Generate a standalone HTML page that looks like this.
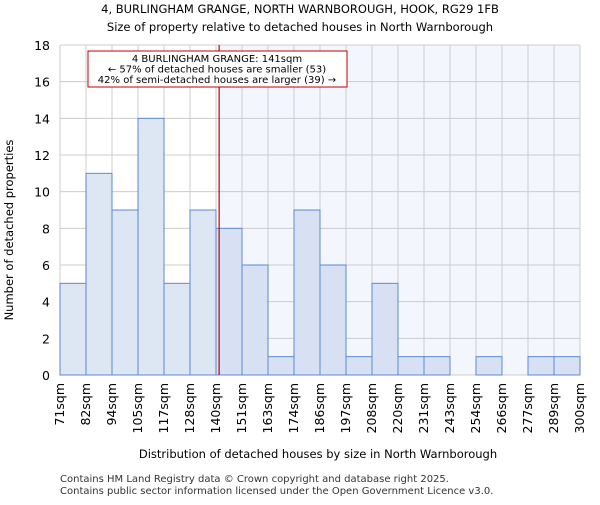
<!DOCTYPE html>
<html><head><meta charset="utf-8"><style>
body{margin:0;background:#fff;font-family:"Liberation Sans","DejaVu Sans",sans-serif}
</style></head><body>
<svg id="c" width="600" height="500" xmlns="http://www.w3.org/2000/svg" font-family="DejaVu Sans, Liberation Sans, sans-serif">
<text x="300" y="13" text-anchor="middle" font-size="11.5">4, BURLINGHAM GRANGE, NORTH WARNBOROUGH, HOOK, RG29 1FB</text>
<text x="300" y="31" text-anchor="middle" font-size="11.5">Size of property relative to detached houses in North Warnborough</text>
<g id="plot"></g>
<text x="318" y="458" text-anchor="middle" font-size="11.5">Distribution of detached houses by size in North Warnborough</text>
<text transform="translate(13,230) rotate(-90)" text-anchor="middle" font-size="11.5">Number of detached properties</text>
<text x="60" y="482" font-size="10" fill="#333">Contains HM Land Registry data © Crown copyright and database right 2025.</text>
<text x="60" y="494" font-size="10" fill="#333">Contains public sector information licensed under the Open Government Licence v3.0.</text>
</svg>
<script>
const categories=["71sqm","82sqm","94sqm","105sqm","117sqm","128sqm","140sqm","151sqm","163sqm","174sqm","186sqm","197sqm","208sqm","220sqm","231sqm","243sqm","254sqm","266sqm","277sqm","289sqm","300sqm"];
const counts=[5,11,9,14,5,9,8,6,1,9,6,1,5,1,1,0,1,0,1,1];
const yTicks=[0,2,4,6,8,10,12,14,16,18];
const markerBin=6.12;
const NS="http://www.w3.org/2000/svg";
const g=document.getElementById('plot');
const X0=60,X1=580,Y0=375,Y1=45,yMax=18;
const bw=(X1-X0)/counts.length;
const xs=i=>X0+i*bw;
const ys=v=>Y0-(Y0-Y1)*v/yMax;
function el(t,a){const e=document.createElementNS(NS,t);for(const k in a)e.setAttribute(k,a[k]);g.appendChild(e);return e;}
const mx=xs(markerBin);
const hl=el('rect',{x:mx,y:Y1,width:X1-mx,height:Y0-Y1,fill:'#f3f6fd'});


yTicks.forEach(t=>{
 const l=el('line',{x1:X0,x2:X1,y1:ys(t),y2:ys(t),stroke:'#cccccc'});
 
 
 const tx=el('text',{x:X0-10,y:ys(t)+5,'text-anchor':'end','font-size':12.5});
 tx.textContent=t;
 
 
});
categories.forEach((c,i)=>{
 const x=xs(i);
 const l=el('line',{x1:x,x2:x,y1:Y1,y2:Y0,stroke:'#cccccc'});
 
 
 const tx=el('text',{transform:`translate(${x+4},${Y0+8}) rotate(-90)`,'text-anchor':'end','font-size':12.5});
 tx.textContent=c;
 
 
});
counts.forEach((v,i)=>{
 if(v<=0)return;
 const r=el('rect',{x:xs(i),y:ys(v),width:bw,height:ys(0)-ys(v),fill:i<markerBin-0.5?'#dde6f3':'#d7e1f3',stroke:'#5b8bd0','stroke-width':1});
 
 
});
const ml=el('line',{x1:mx,x2:mx,y1:Y1,y2:Y0,stroke:'#c00000','stroke-width':1.2});


const bx=el('rect',{x:88,y:51,width:259,height:36,fill:'#fff',stroke:'#c00000'});


["4 BURLINGHAM GRANGE: 141sqm","← 57% of detached houses are smaller (53)","42% of semi-detached houses are larger (39) →"].forEach((s,i)=>{
 const t=el('text',{x:217,y:62+i*10.5,'text-anchor':'middle','font-size':10});
 t.textContent=s;
 
 
});
</script>
</body></html>
